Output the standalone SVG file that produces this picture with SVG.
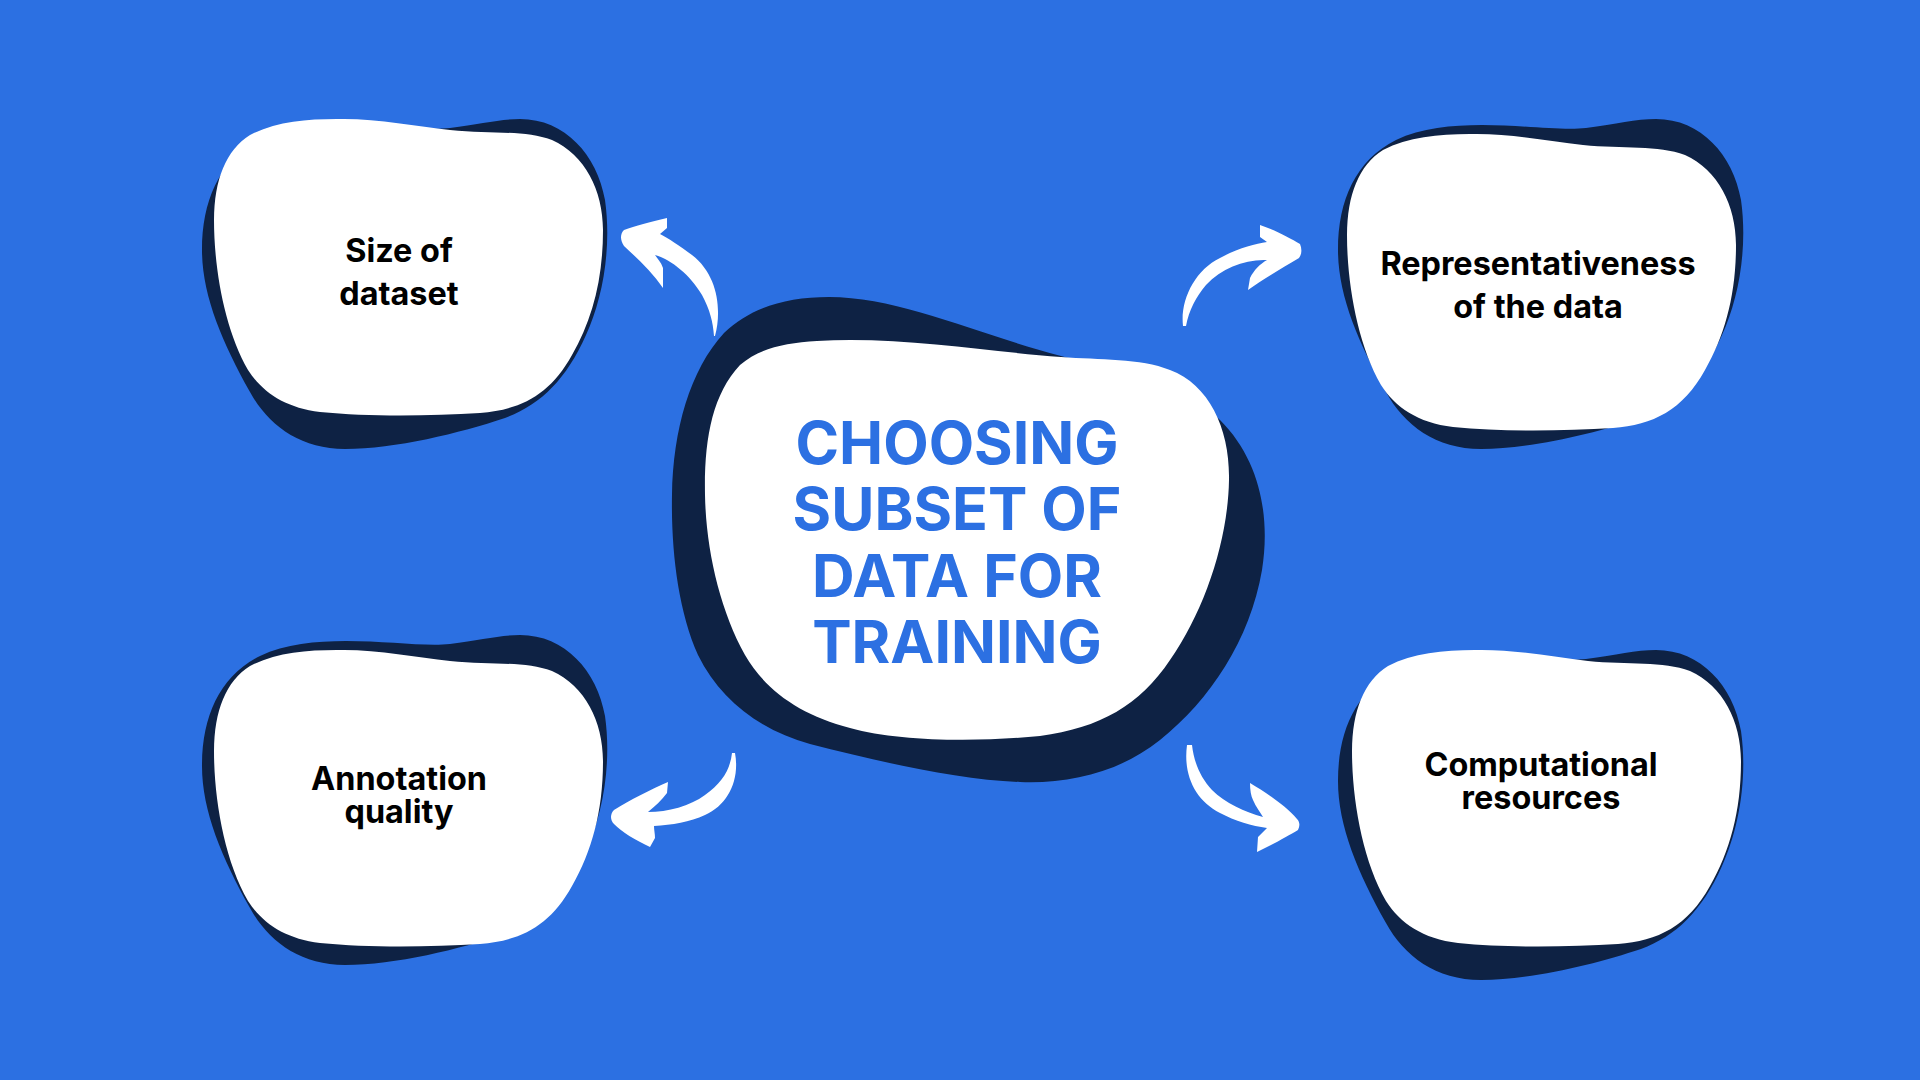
<svg xmlns="http://www.w3.org/2000/svg" xmlns:xlink="http://www.w3.org/1999/xlink" width="1920" height="1080" viewBox="0 0 1920 1080">
<style>
.bg{fill:#2C70E2}
.shadow{fill:#0E2244}
.white{fill:#FFFFFF}
.label{font-family:Inter,"Noto Sans","Liberation Sans",sans-serif;font-weight:700;font-size:32.4px;fill:#000000;text-anchor:middle}
.title{font-family:Inter,"Noto Sans","Liberation Sans",sans-serif;font-weight:700;font-size:59px;fill:#2C70E2;text-anchor:middle}
.arrow{fill:#FFFFFF}
</style>
<defs>
<path id="blobW" d="M 337,119 C 375,118 415,126 450,130 C 490,134 525,130 552,140 C 585,155 603,190 603,230 C 603,280 592,320 572,355 C 550,395 520,410 480,413 C 430,416 370,417 320,412 C 285,408 262,392 248,370 C 225,330 214,270 214,220 C 214,180 226,150 250,135 C 275,122 305,119 337,119 Z"/>
<path id="blobS" d="M 520,119 C 565,119 597,155 605,200 C 612,250 602,300 586,335 C 566,380 540,405 505,418 C 460,433 395,449 345,449 C 300,449 268,425 250,392 C 222,342 202,295 202,250 C 202,200 220,160 260,140 C 320,112 410,133 450,128 C 480,124 500,119 520,119 Z"/>
</defs>
<rect class="bg" x="0" y="0" width="1920" height="1080"/>

<g id="connectors">
<path class="arrow" d="M 715,336 C 722,310 718,275 692,255 C 680,246 668,238 660,234 L 667,228 L 667,218 C 650,222 635,226 624,230 C 620,234 620,240 624,246 C 637,258 652,272 663,288 L 663,268 C 661,262 657,258 655,255 C 672,260 690,275 702,295 C 710,310 713,322 714,336 Z"/>
<path class="arrow" d="M 1183,326 C 1180,300 1195,270 1220,258 C 1238,248 1255,244 1267,242 L 1260,237 L 1260,225 C 1275,230 1290,238 1300,244 C 1302,249 1302,254 1299,258 C 1282,268 1262,280 1248,290 L 1250,278 C 1254,270 1260,264 1267,260 C 1245,259 1222,268 1206,285 C 1196,297 1189,310 1186,326 Z"/>
<path class="arrow" d="M 735,753 C 740,780 728,805 705,815 C 690,822 672,825 654,826 C 654,830 655,834 655,838 L 650,847 C 635,840 622,832 614,824 C 610,820 610,814 614,810 C 630,800 650,790 668,782 L 667,793 C 662,800 655,806 648,812 C 668,812 690,806 705,795 C 722,783 730,770 732,753 Z"/>
<path class="arrow" d="M 1187,745 C 1183,775 1195,800 1220,813 C 1235,821 1252,826 1267,828 L 1258,837 L 1257,852 C 1272,845 1288,836 1298,830 C 1300,826 1300,822 1297,819 C 1285,805 1265,792 1250,783 C 1250,790 1251,796 1253,800 C 1256,807 1260,812 1263,817 C 1245,812 1225,803 1212,790 C 1200,777 1194,762 1192,745 Z"/>
</g>

<g id="node-center">
<path class="shadow" d="M 829,297 C 900,297 980,335 1061,356 C 1120,372 1180,380 1220,420 C 1262,462 1270,520 1262,570 C 1250,640 1210,700 1160,740 C 1120,772 1070,784 1020,782 C 960,780 880,762 810,744 C 760,730 720,700 698,655 C 678,610 671,550 672,495 C 673,430 690,370 724,333 C 750,308 785,297 829,297 Z"/>
<path class="white" d="M 817,341 C 900,336 990,352 1061,357 C 1100,360 1140,358 1170,370 C 1210,385 1230,430 1229,480 C 1228,540 1205,610 1170,660 C 1140,705 1100,728 1040,736 C 980,742 900,742 850,728 C 800,715 765,690 745,655 C 720,610 706,550 705,495 C 704,440 712,395 740,365 C 760,348 785,343 817,341 Z"/>
<text class="title" x="957" y="464">CHOOSING</text>
<text class="title" x="957" y="530">SUBSET OF</text>
<text class="title" x="957" y="597">DATA FOR</text>
<text class="title" x="957" y="663">TRAINING</text>
</g>

<g id="node-size">
<use xlink:href="#blobS" class="shadow"/>
<use xlink:href="#blobW" class="white"/>
<text class="label" x="399" y="262">Size of</text>
<text class="label" x="399" y="305">dataset</text>
</g>

<g id="node-representativeness">
<use xlink:href="#blobS" class="shadow" transform="translate(1136,0)"/>
<use xlink:href="#blobW" class="white" transform="translate(1133,15)"/>
<text class="label" x="1538" y="275">Representativeness</text>
<text class="label" x="1538" y="318">of the data</text>
</g>

<g id="node-annotation">
<use xlink:href="#blobS" class="shadow" transform="translate(0,516)"/>
<use xlink:href="#blobW" class="white" transform="translate(0,531)"/>
<text class="label" x="399" y="790">Annotation</text>
<text class="label" x="399" y="823">quality</text>
</g>

<g id="node-computational">
<use xlink:href="#blobS" class="shadow" transform="translate(1136,531)"/>
<use xlink:href="#blobW" class="white" transform="translate(1138,531)"/>
<text class="label" x="1541" y="776">Computational</text>
<text class="label" x="1541" y="809">resources</text>
</g>
</svg>
